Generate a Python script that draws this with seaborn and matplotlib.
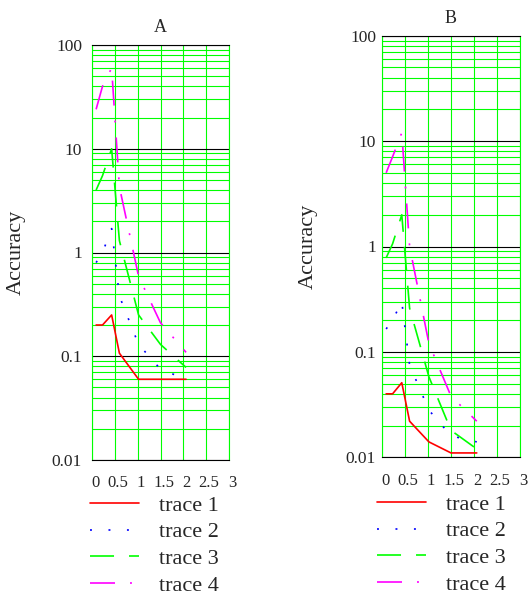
import matplotlib
matplotlib.use("Agg")
import matplotlib.pyplot as plt
import matplotlib.ticker as mticker
from matplotlib.transforms import ScaledTranslation
import seaborn as sns
import numpy as np

# x positions shared by all traces
x_pts = [0.09, 0.23, 0.43, 0.6, 1.02, 1.5, 2.06]

# panel A
a_trace1 = [0.2, 0.2, 0.25, 0.107, 0.06, 0.06, 0.06]
a_trace2 = [0.8, 1.0, 1.7, 0.38, 0.13, 0.075, 0.06]
a_trace3 = [4.0, 5.5, 10.0, 1.3, 0.25, 0.13, 0.078]
a_trace4 = [24.0, 40.0, 60.0, 4.3, 0.59, 0.21, 0.109]

# panel B
b_trace1 = [0.04, 0.04, 0.051, 0.022, 0.014, 0.011, 0.011]
b_trace2 = [0.165, 0.2, 0.3, 0.075, 0.028, 0.016, 0.014]
b_trace3 = [0.78, 1.06, 2.0, 0.26, 0.058, 0.018, 0.012]
b_trace4 = [5.0, 7.1, 12.0, 1.0, 0.12, 0.038, 0.022]

trace_names = ['trace 1', 'trace 2', 'trace 3', 'trace 4']
panel_titles = ['A', 'B']
y_label = 'Accuracy'
x_ticks = [0, 0.5, 1, 1.5, 2, 2.5, 3]
x_ticklabels = ['0', '0.5', '1', '1.5', '2', '2.5', '3']
y_ticks = [0.01, 0.1, 1, 10, 100]
y_ticklabels = ['0.01', '0.1', '1', '10', '100']

sns.set_style('white')
plt.rcParams['font.family'] = ['Liberation Serif', 'DejaVu Serif']
plt.rcParams['lines.scale_dashes'] = False

colors = ['#ff0000', '#0000ff', '#00ff00', '#ff00ff']
styles = ['-', (0, (1.4, 11.9)), (0, (17.3, 10.8)), (0, (18, 10.8, 1.4, 10.8))]
grid_green = '#00ff00'

W, H = 529, 599
fig = plt.figure(figsize=(W / 100, H / 100), dpi=100)

# axes boxes in pixels: left, top, right, bottom
boxes = [(92, 45, 229, 460), (382, 35.7, 520, 457.3)]
ytick_pads = [7.2, 4.3]
ylabel_x = [-0.482, -0.464]
legend_anchor = [(90, 495), (377, 494)]

panels = [[a_trace1, a_trace2, a_trace3, a_trace4],
          [b_trace1, b_trace2, b_trace3, b_trace4]]

for i, traces in enumerate(panels):
    l, t, r, b = boxes[i]
    ax = fig.add_axes([l / W, 1 - b / H, (r - l) / W, (b - t) / H])
    ax.set_yscale('log')
    for ys, name, c, ls in zip(traces, trace_names, colors, styles):
        sns.lineplot(x=x_pts, y=ys, ax=ax, color=c, linestyle=ls,
                     linewidth=1.2, label=name, errorbar=None, sort=False)

    ax.set_xlim(0, 3)
    ax.set_ylim(0.01, 100)
    ax.set_xticks(x_ticks)
    ax.set_xticklabels(x_ticklabels, fontsize=12)
    ax.set_yticks(y_ticks)
    ax.set_yticklabels(y_ticklabels, fontsize=12.5)
    ax.yaxis.set_minor_locator(mticker.LogLocator(base=10, subs=np.arange(2, 10), numticks=20))
    ax.yaxis.set_minor_formatter(mticker.NullFormatter())
    ax.tick_params(axis='both', which='both', length=0)
    ax.tick_params(axis='x', pad=11)
    ax.tick_params(axis='y', pad=ytick_pads[i])
    for lab in ax.get_xticklabels():
        lab.set_transform(lab.get_transform() + ScaledTranslation(3 / 100, 0, fig.dpi_scale_trans))

    ax.grid(False)
    ax.yaxis.grid(True, which='minor', color=grid_green, lw=0.8)
    ax.yaxis.grid(True, which='major', color='black', lw=0.8)
    ax.xaxis.grid(True, which='major', color=grid_green, lw=0.8)
    ax.set_axisbelow(True)
    for side in ['left', 'right']:
        ax.spines[side].set_color(grid_green)
        ax.spines[side].set_linewidth(0.8)
    for side in ['top', 'bottom']:
        ax.spines[side].set_color('black')
        ax.spines[side].set_linewidth(0.8)

    ax.set_title(panel_titles[i], fontsize=13, pad=9)
    ax.set_xlabel('')
    ax.set_ylabel(y_label, fontsize=16)
    ax.yaxis.set_label_coords(ylabel_x[i], 0.5)

    lx, ly = legend_anchor[i]
    handles, labels = ax.get_legend_handles_labels()
    ax.legend(handles, labels, loc='upper left', bbox_to_anchor=(lx / W, 1 - ly / H),
              bbox_transform=fig.transFigure, frameon=False, fontsize=16,
              borderpad=0, borderaxespad=0, handlelength=2.2, handletextpad=0.9,
              labelspacing=0.28)

fig.savefig('out.png', dpi=100)
